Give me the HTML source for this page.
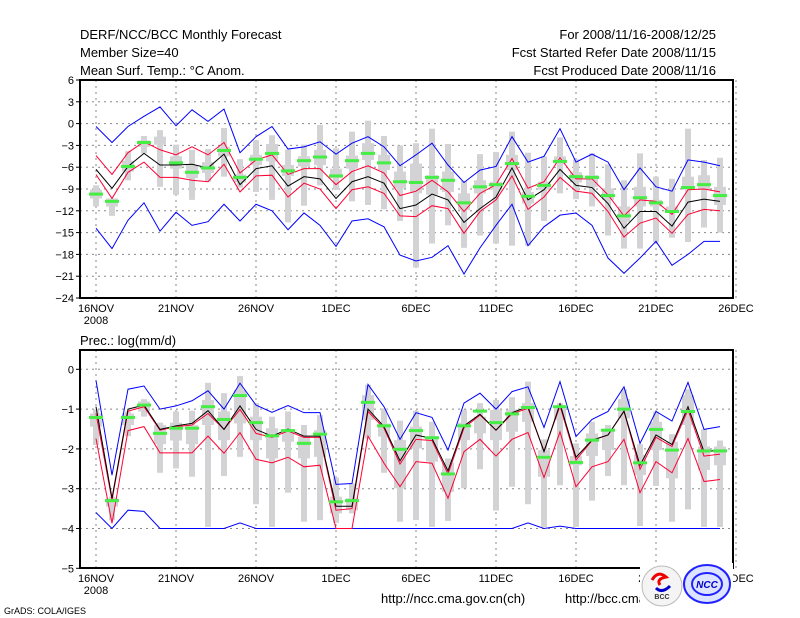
<!DOCTYPE html>
<html><head><meta charset="utf-8"><style>
html,body{margin:0;padding:0;background:#fff;}
svg{display:block;font-family:"Liberation Sans",sans-serif;}
</style></head><body>
<svg id="chart" width="800" height="618" viewBox="0 0 800 618" xmlns="http://www.w3.org/2000/svg">
<rect width="800" height="618" fill="#fff"/>
<g font-size="13" fill="#000">
<text x="80" y="39">DERF/NCC/BCC Monthly Forecast</text>
<text x="80" y="57">Member Size=40</text>
<text x="80" y="75">Mean Surf. Temp.: °C Anom.</text>
<text x="716" y="39" text-anchor="end">For 2008/11/16-2008/12/25</text>
<text x="716" y="57" text-anchor="end">Fcst Started Refer Date 2008/11/15</text>
<text x="716" y="75" text-anchor="end">Fcst Produced Date 2008/11/16</text>
<text x="80" y="345">Prec.: log(mm/d)</text>
</g>
<g id="top"></g>
<g id="bot"></g>
<g id="foot">
<text x="381" y="603" font-size="13">http://ncc.cma.gov.cn(ch)</text>
<text x="565" y="603" font-size="13">http://bcc.cma.gov.cn</text>
<text x="4" y="614" font-size="9">GrADS: COLA/IGES</text>
<rect x="640" y="563" width="93" height="50" fill="#fff"/>
<g>
<circle cx="662" cy="586" r="20" fill="#f4f4f4" stroke="#bbb"/>
<path d="M652 580 q6 -10 14 -3 q-10 2 -6 8" fill="none" stroke="#e00" stroke-width="3"/>
<path d="M656 588 q6 6 14 -2" fill="none" stroke="#00c" stroke-width="3"/>
<text x="662" y="599" font-size="7" text-anchor="middle" font-weight="bold" fill="#333">BCC</text>
</g>
<g>
<ellipse cx="707" cy="584" rx="23" ry="19" fill="#dde4ff" stroke="#22f" stroke-width="2"/>
<ellipse cx="707" cy="584" rx="15" ry="11" fill="none" stroke="#22f" stroke-width="2"/>
<text x="707" y="588" font-size="10" text-anchor="middle" font-style="italic" font-weight="bold" fill="#00c">NCC</text>
</g>
</g>
</svg>
<script>
// ---- Temperature panel data ----
const days = Array.from({length:40},(_,i)=>i);
const tempTicks = [6,3,0,-3,-6,-9,-12,-15,-18,-21,-24];
const dateLabels = ["16NOV","21NOV","26NOV","1DEC","6DEC","11DEC","16DEC","21DEC","26DEC"];
const tBlueMax = [-0.4,-2.6,-0.4,1.0,2.3,-0.3,1.9,0.3,2.0,-4.0,-1.8,-0.4,-3.5,-3.2,-2.5,-4.2,-2.7,-1.8,-3.2,-5.8,-4.3,-2.7,-5.7,-8.1,-6.4,-5.9,-1.8,-5.3,-4.5,-0.7,-5.3,-4.2,-5.3,-9.1,-6.1,-8.7,-9.3,-5.0,-5.3,-5.8];
const tBlueMin = [-14.4,-17.2,-13.3,-10.9,-14.8,-12.2,-14.0,-13.5,-11.1,-13.4,-11.1,-12.0,-14.6,-12.3,-14.0,-16.9,-13.4,-13.1,-14.2,-18.1,-18.9,-18.4,-16.8,-20.7,-17.1,-14.0,-11.1,-16.8,-14.2,-12.6,-12.3,-14.0,-18.5,-20.6,-18.5,-16.2,-19.5,-18.0,-16.2,-16.2];
const tRedUp = [-4.4,-7.0,-4.0,-2.5,-3.6,-4.3,-3.2,-4.3,-2.6,-6.8,-5.0,-4.3,-7.0,-6.2,-6.2,-8.4,-6.6,-5.8,-6.8,-9.9,-9.3,-7.8,-9.4,-12.1,-9.6,-8.4,-4.8,-8.9,-8.0,-4.7,-7.6,-7.6,-9.8,-12.7,-10.5,-10.7,-12.5,-9.1,-9.0,-9.4];
const tMean = [-6.3,-8.9,-5.9,-4.1,-5.7,-5.7,-5.6,-6.1,-4.2,-8.4,-6.2,-5.8,-8.6,-7.3,-7.6,-10.3,-8.0,-7.3,-8.2,-11.7,-11.2,-9.7,-10.5,-13.6,-11.7,-10.1,-6.1,-10.5,-9.1,-6.3,-8.5,-8.8,-11.0,-14.4,-12.1,-12.1,-14.1,-10.8,-10.4,-10.7];
const tRedLo = [-7.0,-10.3,-6.7,-5.3,-7.4,-7.4,-7.8,-8.0,-5.6,-9.4,-7.2,-7.1,-10.1,-8.2,-9.0,-11.7,-9.1,-8.7,-9.6,-12.7,-12.8,-11.3,-11.7,-15.1,-12.1,-10.5,-7.2,-11.8,-10.1,-7.4,-9.3,-9.6,-12.1,-15.6,-13.7,-13.0,-15.1,-12.5,-11.8,-12.0];
const tObs = [-9.7,-10.7,-5.9,-2.6,null,-5.4,-6.7,-6.1,-3.7,-7.4,-4.9,-4.1,-6.5,-5.1,-4.6,-7.2,-5.1,-4.1,-5.4,-8.0,-8.1,-7.4,-7.8,-10.9,-8.7,-8.4,-5.5,-10.0,-8.5,-5.2,-7.3,-7.4,-9.9,-12.7,-10.2,-10.9,-12.1,-8.8,-8.4,-9.9];
const tBarHi = [-8.5,-10.3,-3.8,-1.7,-0.9,-2.9,-3.6,-3.5,-0.6,-4.9,-2.3,-1.6,-3.6,-2.9,-0.2,-3.4,-1.1,0.4,-1.7,-3.0,-2.7,-0.7,-2.8,-7.9,-4.2,-3.9,-1.1,-4.0,-4.5,-1.9,-4.9,-4.1,-5.6,-7.8,-4.1,-7.3,-7.6,-0.7,-5.0,-4.7];
const tBarLo = [-11.4,-12.7,-7.8,-4.1,-8.7,-9.8,-10.5,-8.0,-7.3,-8.8,-9.4,-10.5,-13.6,-11.3,-8.5,-9.1,-10.7,-11.2,-11.8,-13.4,-19.8,-16.5,-14.0,-17.1,-15.4,-16.5,-16.8,-16.8,-13.4,-9.6,-10.4,-11.4,-15.4,-17.2,-17.2,-16.3,-15.7,-16.3,-14.3,-15.0];
const tBoxHi = [-9.1,-10.3,-5.1,-2.3,-1.8,-4.5,-5.7,-5.3,-3.2,-7.0,-4.3,-2.8,-5.7,-4.5,-3.6,-6.2,-4.4,-2.7,-4.3,-6.6,-5.5,-7.1,-6.6,-9.6,-7.8,-8.0,-4.3,-9.4,-8.0,-4.5,-6.7,-7.1,-8.9,-11.4,-8.7,-10.5,-11.4,-7.3,-7.1,-8.7];
const tBoxLo = [-10.3,-11.4,-6.6,-3.2,-2.9,-6.2,-7.5,-6.8,-4.5,-8.1,-5.7,-5.2,-7.2,-5.9,-5.7,-7.5,-6.2,-5.0,-6.4,-8.9,-9.6,-9.8,-9.4,-11.9,-9.6,-9.1,-6.4,-11.0,-9.1,-5.5,-8.1,-8.7,-10.5,-13.5,-11.4,-11.4,-12.3,-9.1,-9.1,-11.2];

// ---- Precipitation panel data ----
const precTicks = [0,-1,-2,-3,-4,-5];
const pBlueMax = [-0.28,-2.66,-0.50,-0.42,-1.0,-0.92,-0.79,-0.54,-1.0,-0.35,-0.90,-1.08,-0.91,-1.09,-1.09,-2.89,-2.87,-0.38,-0.94,-1.76,-1.09,-1.21,-2.03,-0.85,-0.60,-1.0,-0.56,-0.44,-1.46,-0.31,-1.69,-1.26,-1.06,-0.44,-1.86,-1.06,-1.30,-0.33,-1.51,-1.44];
const pBlueMin = [-3.6,-4.0,-3.54,-3.57,-4,-4,-4,-4,-4,-3.86,-4,-4,-4,-4,-4,-4,-4,-4,-4,-4,-4,-4,-4,-4,-4,-4,-4,-3.86,-4,-3.94,-4,-4,-4,-4,-4,-4,-4,-4,-4,-4];
const pRedUp = [-1.11,-3.29,-1.05,-0.94,-1.53,-1.44,-1.40,-1.11,-1.51,-1.01,-1.61,-1.71,-1.55,-1.71,-1.71,-3.54,-3.50,-1.06,-1.48,-2.38,-1.76,-1.79,-2.63,-1.47,-1.15,-1.53,-1.12,-0.98,-2.05,-0.92,-2.28,-1.79,-1.65,-1.06,-2.51,-1.71,-1.94,-1.02,-2.18,-2.13];
const pMean = [-0.94,-3.24,-1.0,-0.90,-1.51,-1.42,-1.36,-1.04,-1.51,-0.92,-1.51,-1.68,-1.50,-1.68,-1.68,-3.44,-3.44,-1.0,-1.44,-2.30,-1.65,-1.74,-2.55,-1.42,-1.13,-1.53,-1.09,-0.94,-2.07,-0.87,-2.21,-1.78,-1.65,-1.05,-2.41,-1.65,-1.89,-0.94,-2.07,-2.03];
const pRedLo = [-1.74,-3.87,-1.54,-1.44,-2.10,-2.10,-2.10,-1.68,-2.11,-1.59,-2.26,-2.35,-2.21,-2.45,-2.41,-4,-4,-1.68,-2.36,-2.95,-2.32,-2.36,-3.24,-2.07,-1.76,-2.18,-1.76,-1.59,-2.72,-1.57,-2.95,-2.45,-2.32,-1.76,-3.10,-2.32,-2.60,-1.74,-2.82,-2.77];
const pObs = [-1.21,-3.30,-1.21,-0.90,-1.61,-1.48,-1.48,-0.94,-1.26,-0.66,-1.34,-1.67,-1.54,-1.86,-1.63,-3.33,-3.30,-0.83,-1.42,-2.01,-1.54,-1.72,-2.63,-1.42,-1.05,-1.34,-1.12,-0.96,-2.21,-0.94,-2.34,-1.78,-1.53,-1.0,-2.35,-1.51,-2.03,-1.06,-2.05,-2.05];
const pBarHi = [-1.01,-3.20,-1.06,-0.75,-1.34,-1.06,-1.04,-0.34,-0.60,-0.17,-0.85,-1.19,-1.06,-1.40,-1.15,-2.72,-2.87,-0.39,-0.98,-1.29,-1.04,-1.32,-2.24,-1.01,-0.85,-0.77,-0.70,-0.31,-1.76,-0.85,-1.86,-1.32,-1.40,-0.50,-1.88,-1.06,-1.63,-0.50,-1.51,-1.79];
const pBarLo = [-1.90,-3.79,-1.68,-1.19,-2.60,-2.49,-2.70,-3.96,-2.68,-2.20,-3.39,-3.96,-3.10,-3.83,-3.79,-3.86,-3.62,-1.74,-2.60,-3.83,-3.79,-3.96,-3.81,-2.99,-2.51,-3.55,-2.95,-3.39,-3.96,-2.91,-3.96,-3.30,-2.68,-2.91,-3.94,-2.93,-3.83,-3.52,-3.96,-3.96];
const pBoxHi = [-1.11,-3.24,-1.11,-0.81,-1.40,-1.34,-1.40,-0.77,-1.06,-0.52,-1.19,-1.48,-1.53,-1.69,-1.53,-3.20,-3.24,-0.65,-1.36,-1.78,-1.44,-1.68,-2.35,-1.34,-1.19,-1.02,-1.01,-0.85,-2.03,-0.98,-2.18,-1.61,-1.53,-0.75,-2.15,-1.32,-1.82,-0.65,-1.94,-1.94];
const pBoxLo = [-1.44,-3.45,-1.40,-1.06,-1.88,-1.79,-1.88,-1.40,-1.78,-1.36,-1.78,-2.24,-1.82,-2.24,-2.20,-3.62,-3.54,-1.27,-1.69,-2.99,-1.99,-2.32,-3.08,-1.78,-1.61,-1.78,-1.57,-1.32,-2.70,-1.27,-2.41,-2.18,-2.03,-1.23,-2.66,-2.03,-2.74,-1.40,-2.53,-2.41];

const NS="http://www.w3.org/2000/svg";
function mk(parent,tag,attrs){const e=document.createElementNS(NS,tag);for(const k in attrs)e.setAttribute(k,attrs[k]);parent.appendChild(e);return e;}
const X0=80,X1=733;
const xScale=d=>96+16*d;

function panel(g,top,bottom,vmax,vmin,ticks,yfn,data,prefix){
  ticks.forEach(t=>{
    const y=yfn(t);
    const l=mk(g,'line',{x1:X0,x2:X1,y1:y,y2:y,stroke:'#888','stroke-dasharray':'2,4','stroke-width':1});
    
    
    const tk=mk(g,'line',{x1:X0-4,x2:X0,y1:y,y2:y,stroke:'#000'});
    
    
    const tx=mk(g,'text',{x:X0-6,y:y+4,'font-size':11,'text-anchor':'end'});
    tx.textContent=String(t).replace('-','\u2212');
    
    
  });
  dateLabels.forEach((lab,i)=>{
    const x=xScale(i*5);
    const l=mk(g,'line',{x1:x,x2:x,y1:top,y2:bottom,stroke:'#888','stroke-dasharray':'2,4'});
    
    
    const t=mk(g,'text',{x:x,y:bottom+14,'font-size':11,'text-anchor':'middle'});
    t.textContent=lab;
    
    
  });
  const yr=mk(g,'text',{x:96,y:bottom+26,'font-size':11,'text-anchor':'middle'});
  yr.textContent='2008';
  
  
  days.forEach(d=>{
    const x=xScale(d);
    const b=mk(g,'rect',{x:x-3,y:yfn(data.barHi[d]),width:6,height:Math.max(1,yfn(data.barLo[d])-yfn(data.barHi[d])),fill:'#d3d3d6'});
    
    
    const bx=mk(g,'rect',{x:x-6,y:yfn(data.boxHi[d]),width:12,height:Math.max(1,yfn(data.boxLo[d])-yfn(data.boxHi[d])),fill:'#d3d3d6'});
    
    
  });
  const series=[[data.blueMax,'#0000ff','max-line'],[data.blueMin,'#0000ff','min-line'],[data.redUp,'#ff0033','upper-line'],[data.redLo,'#ff0033','lower-line'],[data.mean,'#000','mean-line']];
  series.forEach(([arr,col,nm])=>{
    const pts=days.map(d=>xScale(d)+','+yfn(Math.max(vmin,Math.min(vmax,arr[d])))).join(' ');
    const p=mk(g,'polyline',{points:pts,fill:'none',stroke:col,'stroke-width':1});
    
    
  });
  days.forEach(d=>{
    if(data.obs[d]===null)return;
    const r=mk(g,'rect',{x:xScale(d)-7,y:yfn(data.obs[d])-1.5,width:14,height:3,fill:'#44ee44'});
    
    
  });
  const fr=mk(g,'rect',{x:X0,y:top,width:X1-X0,height:bottom-top,fill:'none',stroke:'#000','stroke-width':2});
  
  
}
const yT=v=>80+(6-v)*218/30;
const yB=v=>369.3-v*39.8;
panel(document.getElementById('top'),80,298,6,-24,tempTicks,yT,
 {blueMax:tBlueMax,blueMin:tBlueMin,redUp:tRedUp,redLo:tRedLo,mean:tMean,obs:tObs,barHi:tBarHi,barLo:tBarLo,boxHi:tBoxHi,boxLo:tBoxLo},'temp');
panel(document.getElementById('bot'),350,568,0.48,-5,precTicks,yB,
 {blueMax:pBlueMax,blueMin:pBlueMin,redUp:pRedUp,redLo:pRedLo,mean:pMean,obs:pObs,barHi:pBarHi,barLo:pBarLo,boxHi:pBoxHi,boxLo:pBoxLo},'prec');
const svg=document.getElementById('chart');
svg.appendChild(document.getElementById('foot'));
</script>
</body></html>
